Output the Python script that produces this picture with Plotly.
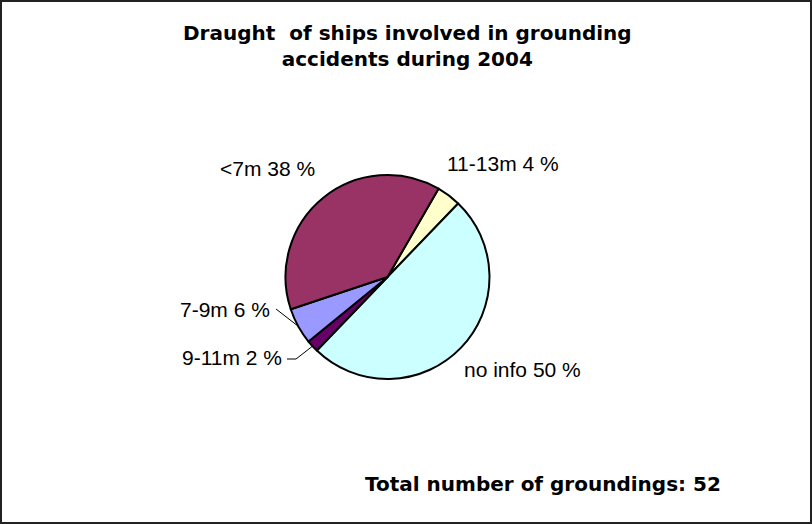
import math
import plotly.graph_objects as go

# Groundings in 2004 by ship draught (number of ships, total 52)
categories = ["11-13m", "no info", "9-11m", "7-9m", "<7m"]
counts = [2, 26, 1, 3, 20]
percent_labels = ["4 %", "50 %", "2 %", "6 %", "38 %"]
colors = ["#FFFFCC", "#CCFFFF", "#660066", "#9999FF", "#993366"]

title_text = "Draught  of ships involved in grounding<br>accidents during 2004"
total_text = "Total number of groundings: " + str(sum(counts))

W, H = 812, 524
CX, CY, R = 387.5, 277.0, 102.0   # pie centre and radius in pixels
START = 30.0                      # first slice starts this many degrees clockwise from 12 o'clock


def px(x):
    return x / W


def py(y):
    return 1 - y / H


def edge_point(i, r=R):
    """Point on the rim at the middle of slice i, in pixels."""
    total = sum(counts)
    before = sum(counts[:i])
    ang = math.radians(START + 360.0 * (before + counts[i] / 2) / total)
    return CX + r * math.sin(ang), CY - r * math.cos(ang)


fig = go.Figure(
    go.Pie(
        labels=categories,
        values=counts,
        sort=False,
        direction="clockwise",
        rotation=START,
        marker=dict(colors=colors, line=dict(color="black", width=2)),
        textinfo="none",
        hoverinfo="label+value+percent",
        showlegend=False,
        domain=dict(x=[px(CX - R), px(CX + R)], y=[py(CY + R), py(CY - R)]),
    )
)

label_font = dict(family="Liberation Sans, Arial, sans-serif", size=21, color="black")
bold_font = dict(family="DejaVu Sans, sans-serif", size=20, color="black", weight="bold")

# label placement: (x, y, xanchor) in pixels
label_pos = {
    "11-13m": (445, 164, "left"),
    "no info": (462, 369, "left"),
    "9-11m": (284, 357.5, "right"),
    "7-9m": (272, 309, "right"),
    "<7m": (317, 169, "right"),
}

annotations = []
for cat, pct in zip(categories, percent_labels):
    x, y, xa = label_pos[cat]
    annotations.append(dict(
        x=px(x), y=py(y), xref="paper", yref="paper",
        text=f"{cat} {pct}", showarrow=False,
        xanchor=xa, yanchor="middle", font=label_font,
    ))

annotations.append(dict(
    x=px(407.5), y=py(46), xref="paper", yref="paper",
    text=title_text, showarrow=False, xanchor="center", yanchor="middle",
    font=bold_font,
))
annotations.append(dict(
    x=px(363), y=py(484), xref="paper", yref="paper",
    text=total_text, showarrow=False, xanchor="left", yanchor="middle",
    font=bold_font,
))

shapes = []
# leader lines for the two small slices on the left
i78 = categories.index("7-9m")
ex, ey = edge_point(i78)
shapes.append(dict(
    type="path", xref="paper", yref="paper",
    path=f"M {px(276)},{py(309)} L {px(ex)},{py(ey)}",
    line=dict(color="black", width=1),
))
i911 = categories.index("9-11m")
ex, ey = edge_point(i911)
shapes.append(dict(
    type="path", xref="paper", yref="paper",
    path=f"M {px(287)},{py(359)} L {px(296)},{py(359)} L {px(ex)},{py(ey)}",
    line=dict(color="black", width=1),
))
# chart border
shapes.append(dict(
    type="rect", xref="paper", yref="paper",
    x0=px(1), y0=py(H - 1), x1=px(W - 1), y1=py(1),
    line=dict(color="#222222", width=2), fillcolor="rgba(0,0,0,0)",
))

fig.update_layout(
    width=W, height=H,
    margin=dict(l=0, r=0, t=0, b=0),
    paper_bgcolor="white",
    plot_bgcolor="white",
    annotations=annotations,
    shapes=shapes,
)

fig.write_html("out.html")
